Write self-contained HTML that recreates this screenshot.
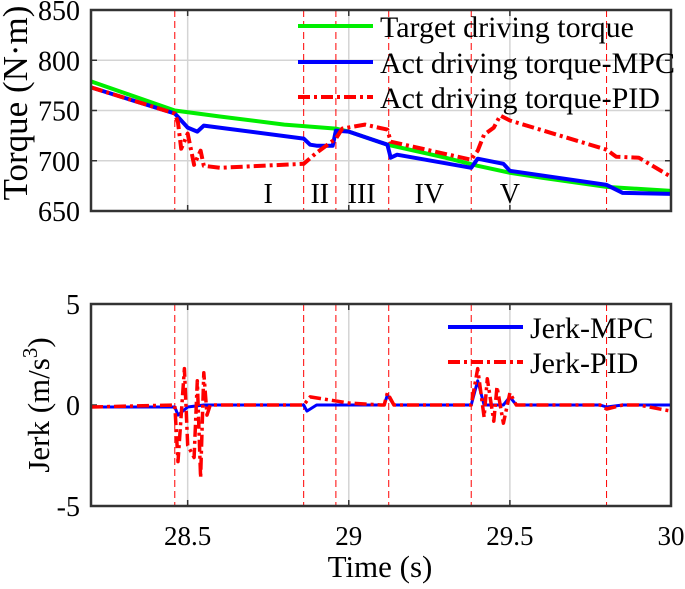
<!DOCTYPE html>
<html><head><meta charset="utf-8"><style>
html,body{margin:0;padding:0;background:#fff}
svg text{font-family:"Liberation Serif",serif;fill:#000}
</style></head><body>
<svg id="c" width="685" height="584" viewBox="0 0 685 584" xmlns="http://www.w3.org/2000/svg"></svg>
<script>
const xTicks=[28.5,29,29.5,30];
const xTickLabels=["28.5","29","29.5","30"];
const torqueTicks=[650,700,750,800,850];
const jerkTicks=[-5,0,5];
const phaseLines=[28.46,28.86,28.96,29.124,29.38,29.8];
const phaseLabels=["I","II","III","IV","V"];
const phaseLabelX=[28.75,28.91,29.04,29.25,29.5];
const targetT=[28.2,28.46,28.6,28.8,28.96,29.0,29.12,29.3,29.4,29.5,29.6,29.8,30];
const targetV=[779,750,744,736,732,729,716,703,695,688,683,674,670];
const mpcT=[28.2,28.46,28.5,28.53,28.55,28.86,28.88,28.9,28.95,28.96,29.0,29.12,29.13,29.15,29.38,29.4,29.48,29.5,29.8,29.85,30];
const mpcV=[773,747,733,729,735,722,716,715,715,730,729,716,703,706,693,702,697,690,676,668,667];
const pidT=[28.2,28.46,28.47,28.48,28.5,28.52,28.54,28.55,28.6,28.86,28.9,28.96,28.98,29.05,29.12,29.13,29.38,29.4,29.42,29.45,29.47,29.5,29.8,29.83,29.9,30];
const pidV=[773,747,738,712,727,696,710,695,693,697,708,722,732,736,731,719,701,710,726,733,745,740,711,704,703,684];
const jMpcT=[28.2,28.46,28.47,28.5,28.55,28.86,28.87,28.9,29.0,29.11,29.12,29.14,29.38,29.4,29.42,29.48,29.5,29.52,29.78,29.8,29.85,30];
const jMpcV=[-0.1,-0.1,-0.5,-0.1,0,0,-0.3,0,0,0,0.5,0,0,1.2,0,0,0.4,0,0,-0.1,0,0];
const jPidT=[28.2,28.46,28.47,28.49,28.5,28.52,28.53,28.54,28.55,28.56,28.57,28.86,28.88,29.0,29.1,29.11,29.12,29.14,29.38,29.4,29.42,29.43,29.45,29.46,29.48,29.5,29.52,29.78,29.8,29.85,29.9,30];
const jPidV=[-0.1,0,-2.8,1.8,-2,-2.6,1.2,-3.6,1.6,-0.5,0,0,0.4,0.1,0,0,0.6,0,0,1.8,-0.6,1.3,-0.8,0.9,-0.9,0.6,0,0,-0.2,0,0,-0.3];

const NS="http://www.w3.org/2000/svg";
const svg=document.getElementById('c');
const L=91,R=671;
const X=t=>L+(t-28.2)/1.8*(R-L);
const Y1=v=>211-(v-650)/200*(211-10);
const Y2=v=>506-(v+5)/10*(506-304);
function el(tag,attrs,parent){const e=document.createElementNS(NS,tag);for(const k in attrs)e.setAttribute(k,attrs[k]);(parent||svg).appendChild(e);return e;}
function line(ts,vs,Y,color,w,dash,name){
  const d=ts.map((t,i)=>(i?'L':'M')+X(t).toFixed(1)+','+Y(vs[i]).toFixed(1)).join('');
  const p=el('path',{d:d,fill:'none',stroke:color,'stroke-width':w,'stroke-dasharray':dash||'none','stroke-linejoin':'round'});
  
  
}
function panel(top,bot,Y,ticks,tickLabels,prefix){
  const g=el('g',{});
  
  
  xTicks.forEach(t=>{const l=el('line',{x1:X(t),x2:X(t),y1:top,y2:bot,stroke:'#d4d4d4','stroke-width':1.5},g);});
  if(prefix==='torque'){ticks.slice(1,-1).forEach(v=>{const l=el('line',{x1:L,x2:R,y1:Y(v),y2:Y(v),stroke:'#d4d4d4','stroke-width':1.5},g);});}
  phaseLines.forEach(t=>{const l=el('line',{x1:X(t),x2:X(t),y1:top,y2:bot,stroke:'#f00','stroke-width':1,'stroke-dasharray':'7,4'},g);});
  ticks.forEach((v,i)=>{
    el('line',{x1:L,x2:L+6,y1:Y(v),y2:Y(v),stroke:'#333','stroke-width':1.5},g);
    el('line',{x1:R,x2:R-6,y1:Y(v),y2:Y(v),stroke:'#333','stroke-width':1.5},g);
    const tx=el('text',{x:80,y:Y(v)+10,'text-anchor':'end','font-size':28},g);tx.textContent=tickLabels[i];
    
  });
  xTicks.forEach(t=>{el('line',{x1:X(t),x2:X(t),y1:bot,y2:bot-6,stroke:'#333','stroke-width':1.5},g);el('line',{x1:X(t),x2:X(t),y1:top,y2:top+6,stroke:'#333','stroke-width':1.5},g);});
}
panel(10,211,Y1,torqueTicks,torqueTicks.map(String),'torque');
phaseLabels.forEach((s,i)=>{const t=el('text',{x:X(phaseLabelX[i]),y:203,'text-anchor':'middle','font-size':28});t.textContent=s;});
line(targetT,targetV,Y1,'#00ee00',4,null,'target-torque-line');
line(mpcT,mpcV,Y1,'#0000ff',4,null,'mpc-torque-line');
line(pidT,pidV,Y1,'#ff0000',4,'12,4,3,4','pid-torque-line');
el('rect',{x:L,y:10,width:R-L,height:201,fill:'none',stroke:'#333','stroke-width':2.5});
panel(304,506,Y2,jerkTicks,jerkTicks.map(String),'jerk');
line(jMpcT,jMpcV,Y2,'#0000ff',3,null,'mpc-jerk-line');
line(jPidT,jPidV,Y2,'#ff0000',3.5,'12,4,3,4','pid-jerk-line');
el('rect',{x:L,y:304,width:R-L,height:202,fill:'none',stroke:'#333','stroke-width':2.5});
xTicks.forEach((t,i)=>{const tx=el('text',{x:X(t),y:545,'text-anchor':'middle','font-size':27});tx.textContent=xTickLabels[i];});
function leg(x,y,color,dash,w,label,name){
  const g=el('g',{});
  
  
  el('line',{x1:x,x2:x+75,y1:y,y2:y,stroke:color,'stroke-width':w,'stroke-dasharray':dash||'none'},g);
  const t=el('text',{x:x+82,y:y+11,'font-size':30},g);t.textContent=label;
}
leg(298,26,'#00ee00',null,4,'Target driving torque','legend-target');
leg(298,62,'#0000ff',null,4,'Act driving torque-MPC','legend-mpc');
leg(298,97,'#ff0000','12,4,3,4',4,'Act driving torque-PID','legend-pid');
leg(448,327,'#0000ff',null,4,'Jerk-MPC','legend-jerk-mpc');
leg(448,362,'#ff0000','12,4,3,4',4,'Jerk-PID','legend-jerk-pid');
</script>
<div style="position:absolute;left:0;top:0;width:685px;height:584px;pointer-events:none">
<svg width="685" height="584" style="position:absolute;left:0;top:0">
<text transform="translate(27,103) rotate(-90)" text-anchor="middle" font-size="35" font-family="Liberation Serif, serif">Torque (N·m)</text>
<text transform="translate(49,405) rotate(-90)" text-anchor="middle" font-size="31" font-family="Liberation Serif, serif">Jerk (m/s<tspan dy="-12" font-size="21">3</tspan><tspan dy="12">)</tspan></text>
<text x="380" y="577" text-anchor="middle" font-size="31" font-family="Liberation Serif, serif">Time (s)</text>
</svg></div>
</body></html>
